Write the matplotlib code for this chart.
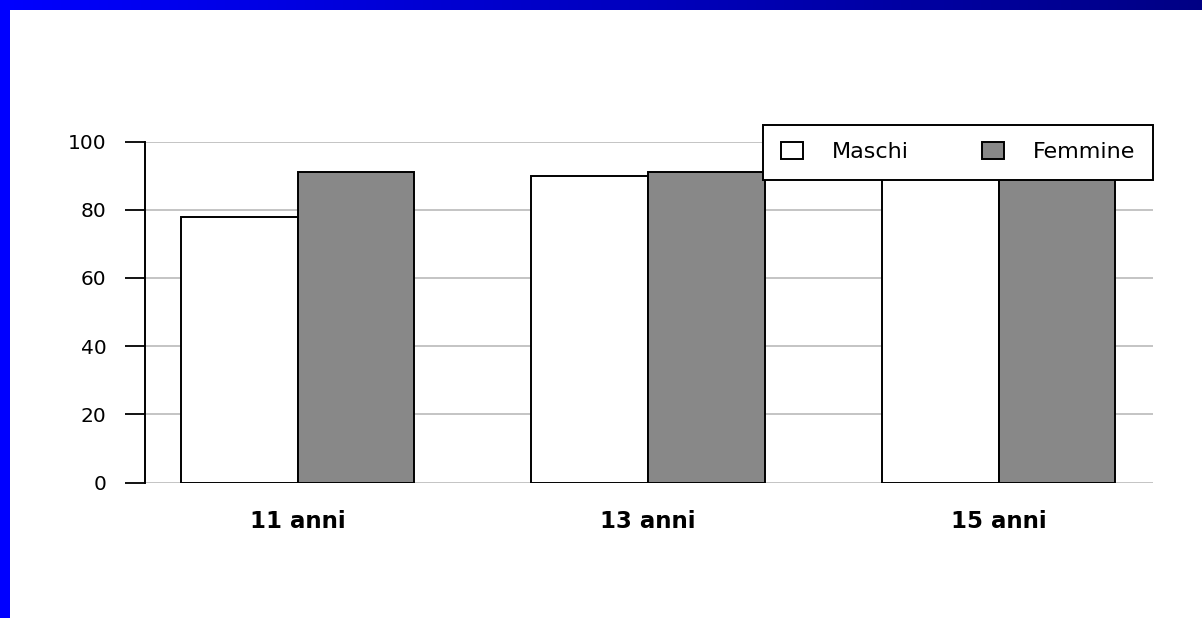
import numpy as np
import matplotlib
matplotlib.use("Agg")
import matplotlib.pyplot as plt
import matplotlib.patches as mpatches

# dati
categorie = ['11 anni', '13 anni', '15 anni']
maschi = [78, 90, 92]
femmine = [91, 91, 93]
yticks = [0, 20, 40, 60, 80, 100]

plt.rcParams['font.family'] = ['DejaVu Sans']

W, H = 1202, 618
fig = plt.figure(figsize=(W / 100, H / 100), dpi=100)
fig.patch.set_facecolor('white')

# bordo blu (alto con sfumatura, sinistra pieno)
top = fig.add_axes([0, 1 - 10 / H, 1, 10 / H])
grad = np.zeros((1, 256, 3))
grad[0, :, 2] = np.linspace(1.0, 0.52, 256)
top.imshow(grad, aspect='auto', extent=[0, 1, 0, 1])
top.set_axis_off()
fig.patches.append(mpatches.Rectangle((0, 0), 10 / W, 1, transform=fig.transFigure,
                                      facecolor='#0000ff', edgecolor='none', zorder=5))

ax = fig.add_axes([145 / W, 1 - 482.7 / H, (1153 - 145) / W, (482.7 - 141.5) / H])
x = np.arange(len(categorie))
w = 0.333
ax.bar(x - w / 2, maschi, w, color='white', edgecolor='black', linewidth=1.4, label='Maschi', zorder=3)
ax.bar(x + w / 2, femmine, w, color='#888888', edgecolor='black', linewidth=1.4, label='Femmine', zorder=3)

ax.set_xlim(-0.435, 2.44)
ax.set_ylim(0, 100)
ax.set_yticks(yticks)
ax.set_xticks(x)
ax.set_xticklabels(categorie, fontsize=16.5, fontweight='bold')
ax.tick_params(axis='x', length=0, pad=20)
ax.tick_params(axis='y', length=14.4, width=1.3, pad=13.5, labelsize=14.5, direction='out')

for v in yticks:
    ax.axhline(v, color='#b4b4b4', linewidth=1.1, zorder=1)
for s in ['top', 'right', 'bottom']:
    ax.spines[s].set_visible(False)
ax.spines['left'].set_linewidth(1.4)
ax.spines['left'].set_zorder(4)

leg = fig.legend(loc='upper right', bbox_to_anchor=(1153 / W, 1 - 125 / H),
                 bbox_transform=fig.transFigure, ncol=2, fontsize=16,
                 frameon=True, fancybox=False, framealpha=1, edgecolor='black',
                 borderaxespad=0, borderpad=0.78, handlelength=1.0, handleheight=0.75,
                 handletextpad=1.3, columnspacing=3.3)
leg.get_frame().set_linewidth(1.4)

fig.savefig('out.png', dpi=100, facecolor='white')
